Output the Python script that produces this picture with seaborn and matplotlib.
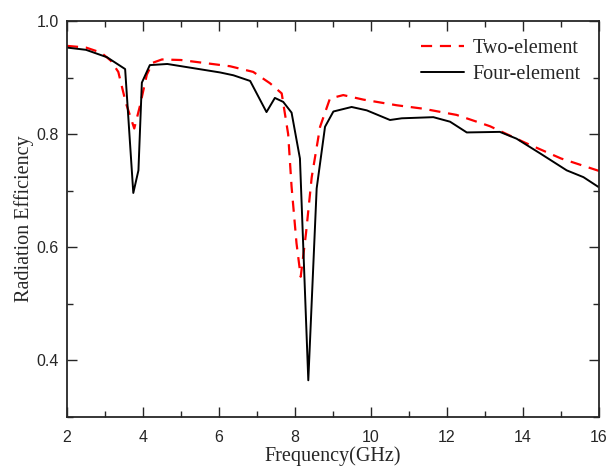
import matplotlib
matplotlib.use("Agg")
import matplotlib.pyplot as plt
import seaborn as sns
import pandas as pd
from matplotlib.ticker import MultipleLocator

# ---- data ----
two_freq = [2.0, 2.5, 2.9, 3.15, 3.35, 3.55, 3.77, 3.92, 4.1, 4.25, 4.5, 5.0,
            6.29, 6.9, 7.34, 7.65, 7.82, 7.91, 8.04, 8.15, 8.29, 8.44, 8.66,
            8.92, 9.27, 9.8, 10.68, 11.37, 12.25, 12.78, 13.13, 14.05, 15.0,
            15.41, 16.0]
two_eff = [0.956, 0.953, 0.944, 0.930, 0.910, 0.855, 0.810, 0.850, 0.905,
           0.926, 0.932, 0.931, 0.920, 0.910, 0.890, 0.872, 0.800, 0.707,
           0.607, 0.548, 0.625, 0.724, 0.813, 0.863, 0.869, 0.861, 0.851,
           0.845, 0.834, 0.822, 0.814, 0.785, 0.757, 0.748, 0.735]

four_freq = [2.0, 2.5, 3.05, 3.53, 3.745, 3.88, 3.97, 4.18, 4.64, 6.03, 6.38,
             6.82, 7.25, 7.47, 7.69, 7.91, 8.13, 8.35, 8.57, 8.79, 9.01, 9.49,
             9.89, 10.5, 10.81, 11.64, 12.08, 12.52, 13.39, 13.83, 14.45,
             15.15, 15.59, 16.0]
four_eff = [0.953, 0.949, 0.936, 0.915, 0.696, 0.736, 0.891, 0.922, 0.924,
            0.909, 0.904, 0.894, 0.839, 0.864, 0.857, 0.838, 0.757, 0.365,
            0.704, 0.813, 0.840, 0.848, 0.842, 0.825, 0.828, 0.830, 0.822,
            0.803, 0.804, 0.792, 0.766, 0.736, 0.724, 0.706]

labels = ["Two-element", "Four-element"]
x_ticks = [2, 4, 6, 8, 10, 12, 14, 16]
y_ticks = [0.4, 0.6, 0.8, 1.0]

df_two = pd.DataFrame({"f": two_freq, "e": two_eff})
df_four = pd.DataFrame({"f": four_freq, "e": four_eff})

sns.set_style("ticks")
plt.rcParams["font.family"] = ["Liberation Sans", "DejaVu Sans"]
plt.rcParams["xtick.direction"] = "in"
plt.rcParams["ytick.direction"] = "in"

fig = plt.figure(figsize=(6.09, 4.66), dpi=100)
ax = fig.add_axes([0.110, 0.105, 0.8736, 0.850])

sns.lineplot(data=df_two, x="f", y="e", ax=ax, color="#ff0000",
             linewidth=1.6, estimator=None, label=labels[0])
ax.lines[-1].set_dashes([5, 3.5])
sns.lineplot(data=df_four, x="f", y="e", ax=ax, color="black",
             linewidth=1.4, estimator=None, label=labels[1])

ax.set_xlim(2, 16)
ax.set_ylim(0.3, 1.0)
ax.set_xticks(x_ticks)
ax.set_yticks(y_ticks)
ax.set_xticklabels([str(t) for t in x_ticks])
ax.set_yticklabels([f"{t:.1f}" for t in y_ticks])
ax.xaxis.set_minor_locator(MultipleLocator(1))
ax.yaxis.set_minor_locator(MultipleLocator(0.1))
ax.tick_params(which="both", top=True, right=True, direction="in",
               width=1.0, labelsize=11.5)
ax.tick_params(which="major", length=7)
ax.tick_params(axis="x", which="major", pad=9)
ax.tick_params(axis="y", which="major", pad=6)
ax.tick_params(which="minor", length=4)
for s in ax.spines.values():
    s.set_linewidth(1.3)

serif = ["Liberation Serif", "DejaVu Serif"]
ax.set_xlabel("Frequency(GHz)", fontsize=14.5, family=serif, labelpad=1.2)
ax.set_ylabel("Radiation Efficiency", fontsize=14.5, family=serif, labelpad=1.5)

leg = ax.legend(loc="upper right", frameon=False, prop={"family": serif, "size": 14.5},
                handlelength=2.1, handletextpad=0.45, borderaxespad=0.5,
                labelspacing=0.35)

fig.savefig("out.png", dpi=100)
